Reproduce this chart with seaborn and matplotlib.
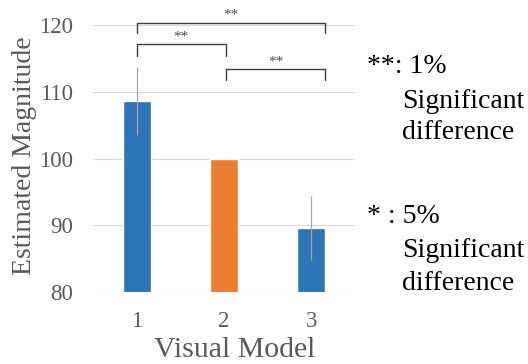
import matplotlib
matplotlib.use("Agg")
import matplotlib.pyplot as plt
import seaborn as sns
import pandas as pd

categories = ["1", "2", "3"]
values = [108.6, 100.0, 89.6]
errors = [5.1, 0.0, 4.8]
colors = ["#2E75B6", "#ED7D31", "#2E75B6"]

sns.set_theme(style="white")
plt.rcParams['font.family'] = ['Liberation Serif', 'DejaVu Serif']

df = pd.DataFrame({"model": categories, "value": values})
fig = plt.figure(figsize=(5.28, 3.64), dpi=100)
ax = fig.add_axes([0.176, 0.1978, 0.496, 0.7335])
sns.barplot(data=df, x="model", y="value", hue="model", palette=colors,
            width=0.32, legend=False, ax=ax, errorbar=None, saturation=1)
ax.errorbar(range(len(values)), values, yerr=errors, fmt="none",
            ecolor="#A6A6A6", elinewidth=0.9, capsize=0)
ax.set_ylim(80, 120)
ax.set_xlim(-0.5, 2.5)
ax.set_yticks([80, 90, 100, 110, 120])
ax.yaxis.grid(True, color="#D9D9D9", linewidth=0.8)
ax.set_axisbelow(True)
for s in ax.spines.values():
    s.set_visible(False)
ax.tick_params(axis="both", length=0, labelsize=16.5, colors="#595959", pad=14)
ax.set_xlabel("Visual Model", fontsize=21.5, color="#595959")
ax.set_ylabel("Estimated Magnitude", fontsize=20, color="#595959")
ax.xaxis.set_label_coords(0.54, -0.17)
ax.yaxis.set_label_coords(-0.215, 0.51)

# significance brackets
brackets = [(0, 2.16, 120.35, 118.8), (0, 1.02, 117.1, 115.3), (1.02, 2.16, 113.4, 111.8)]
for x1, x2, ytop, ybot in brackets:
    ax.plot([x1, x1, x2, x2], [ybot, ytop, ytop, ybot], color="#404040",
            linewidth=1.0, clip_on=False)
    ax.text((x1 + x2) / 2, ytop + 0.1, "**", ha="center", va="bottom",
            fontsize=11, color="#505050", clip_on=False)

fs = 20
fig.text(367 / 528, 1 - 73 / 364, "**: 1%", fontsize=fs, color="black", va="baseline")
fig.text(402 / 528, 1 - 108 / 364, "Significant", fontsize=fs, color="black", va="baseline")
fig.text(402 / 528, 1 - 139 / 364, "difference", fontsize=fs, color="black", va="baseline")
fig.text(367 / 528, 1 - 223 / 364, "* : 5%", fontsize=fs, color="black", va="baseline")
fig.text(402 / 528, 1 - 257 / 364, "Significant", fontsize=fs, color="black", va="baseline")
fig.text(402 / 528, 1 - 290 / 364, "difference", fontsize=fs, color="black", va="baseline")

fig.savefig("out.png", dpi=100)
